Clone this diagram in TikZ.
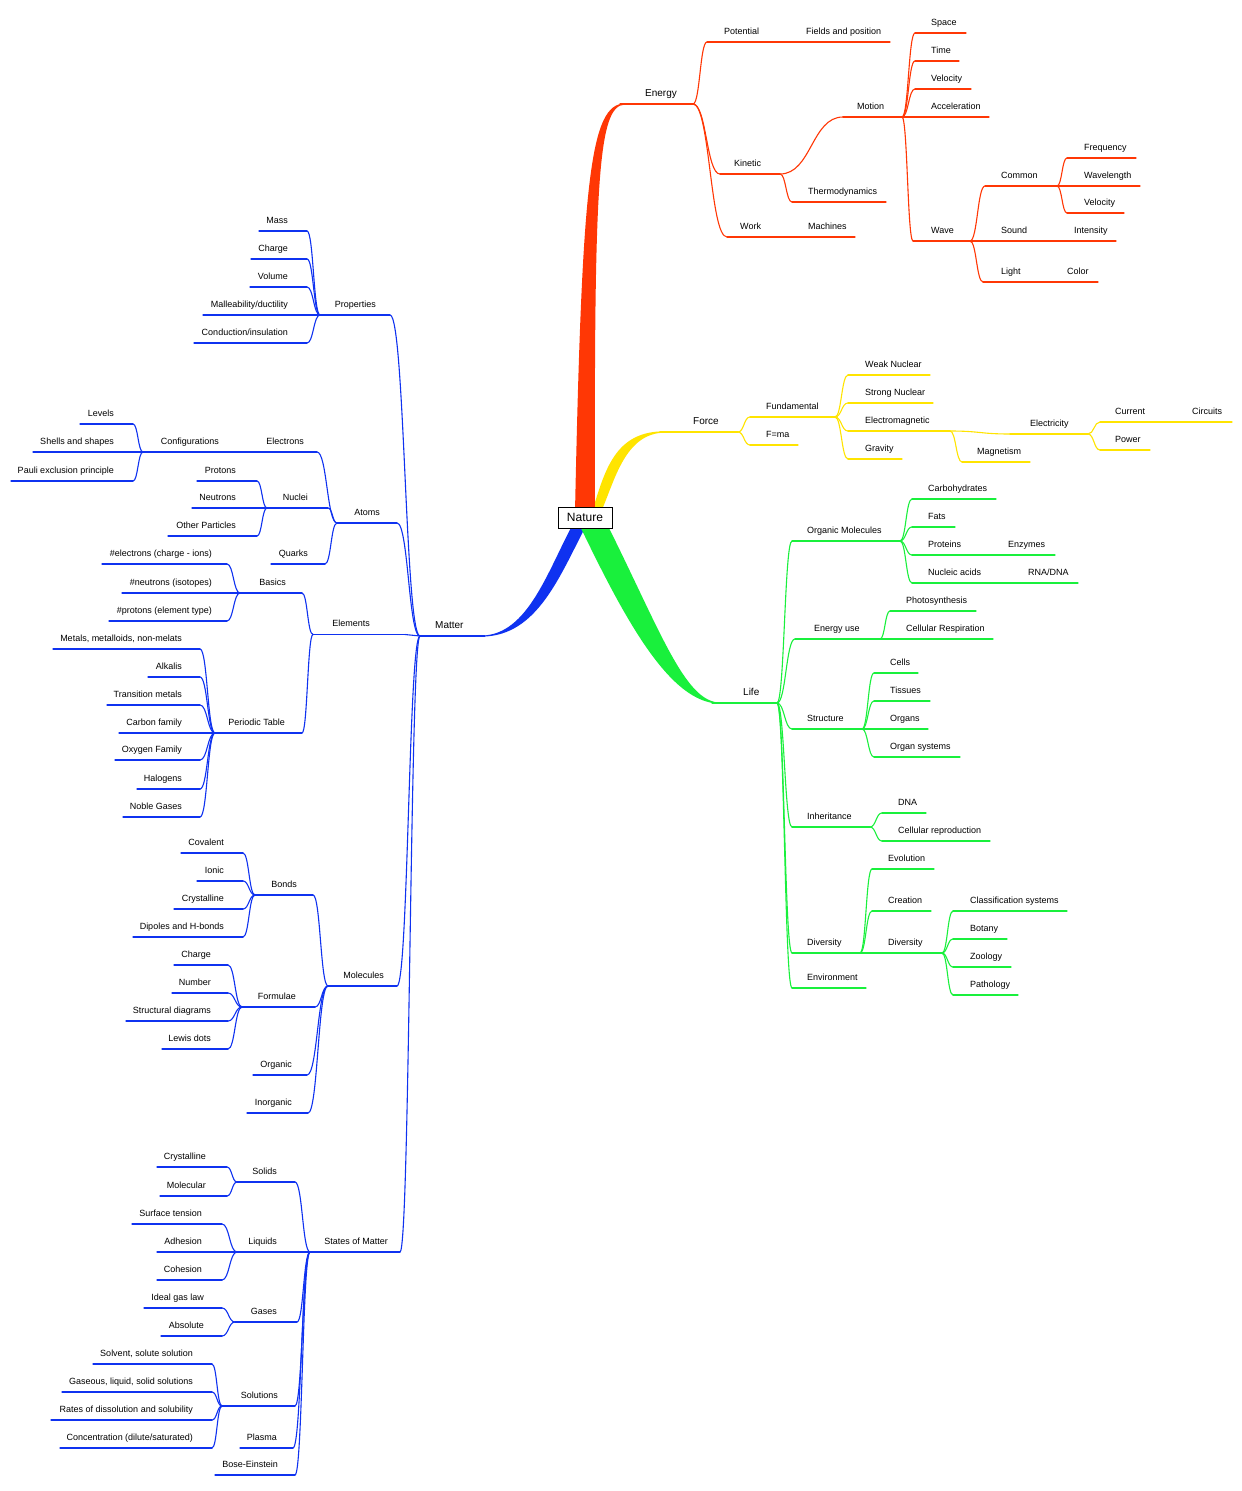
\documentclass[tikz,border=0pt]{standalone}
\usepackage{fontspec}
\setmainfont{Liberation Sans}
\usetikzlibrary{calc}
\definecolor{cred}{RGB}{255,55,5}
\definecolor{cyel}{RGB}{255,228,0}
\definecolor{cgrn}{RGB}{25,240,60}
\definecolor{cblu}{RGB}{15,50,240}
\tikzset{
 lbl/.style={inner sep=0pt, text=black, font=\fontsize{9}{10}\selectfont},
 big/.style={font=\fontsize{10}{12}\selectfont},
 ul/.style={line width=1.1pt, line cap=round},
 cn/.style={line width=1.1pt, line cap=round},
}
\newcommand\mn[8][]{%
 \coordinate (#2-s) at (#3,#5);
 \coordinate (#2-e) at (#4,#5);
 \node[lbl,anchor=#6,#1] (#2) at (#7,#5-8) {#8};
 \draw[ul] (#2-s) -- (#2-e);}
\newcommand\cR[2]{\draw[cn] let \p1=(#1-e),\p2=(#2-s) in (#1-e) .. controls ({(\x1+\x2)/2},\y1) and ({(\x1+\x2)/2},\y2) .. (#2-s);}
\newcommand\cL[2]{\draw[cn] let \p1=(#1-s),\p2=(#2-e) in (#1-s) .. controls ({(\x1+\x2)/2},\y1) and ({(\x1+\x2)/2},\y2) .. (#2-e);}
\newcommand\kR[2]{\foreach \kk in {#2}{\cR{#1}{\kk}}}
\newcommand\kL[2]{\foreach \kk in {#2}{\cL{#1}{\kk}}}
\begin{document}
\begin{tikzpicture}[x=1pt,y=-1pt]
\useasboundingbox (0,0) rectangle (1242,1491);
\fill[white] (0,0) rectangle (1242,1491);
% trunks
\fill[cyel] (592,512) .. controls (605,470) and (615,431) .. (665,431.3) -- (665,432.6) .. controls (625,433) and (615,480) .. (601,512) -- cycle;
\fill[cred] (575,512) .. controls (582,180) and (590,103.5) .. (625,103.5) -- (625,104.6) .. controls (598,105) and (594,180) .. (595,512) -- cycle;
\fill[cblu] (574,522) .. controls (548,570) and (528,634.8) .. (482,635.5) -- (482,636.6) .. controls (538,636) and (560,575) .. (588,522) -- cycle;
\fill[cgrn] (606,522) .. controls (660,630) and (685,702.5) .. (720,702.5) -- (720,703.6) .. controls (670,703.5) and (625,620) .. (578,522) -- cycle;
\node[draw=black, line width=1pt, fill=white, minimum width=54, minimum height=21, inner sep=0pt, font=\fontsize{12}{14}\selectfont] (nature) at (585,517.5) {Nature};

% ===== Energy (red)
\begin{scope}[color=cred]
\mn[big]{energy}{620}{693}{104}{base west}{645}{Energy}
\mn{potential}{707}{790}{42}{base west}{724}{Potential}
\mn{fields}{790}{890}{42}{base west}{806}{Fields and position}
\mn{kinetic}{720}{780}{174}{base west}{734}{Kinetic}
\mn{motion}{843}{902}{117}{base west}{857}{Motion}
\mn{space}{915}{966}{33}{base west}{931}{Space}
\mn{timex}{915}{959}{61}{base west}{931}{Time}
\mn{velA}{915}{971}{89}{base west}{931}{Velocity}
\mn{accel}{915}{989}{117}{base west}{931}{Acceleration}
\mn{wave}{913}{970}{241}{base west}{931}{Wave}
\mn{common}{985}{1057}{186}{base west}{1001}{Common}
\mn{freq}{1067}{1136}{158}{base west}{1084}{Frequency}
\mn{wavelen}{1067}{1140}{186}{base west}{1084}{Wavelength}
\mn{velB}{1067}{1124}{213}{base west}{1084}{Velocity}
\mn{sound}{985}{1060}{241}{base west}{1001}{Sound}
\mn{intensity}{1060}{1116}{241}{base west}{1074}{Intensity}
\mn{light}{983}{1055}{282}{base west}{1001}{Light}
\mn{colour}{1055}{1098}{282}{base west}{1067}{Color}
\mn{thermo}{792}{886}{202}{base west}{808}{Thermodynamics}
\mn{work}{727}{790}{237}{base west}{740}{Work}
\mn{machines}{790}{855}{237}{base west}{808}{Machines}
\kR{energy}{potential,kinetic,work}
\cR{potential}{fields}
\kR{kinetic}{motion,thermo}
\kR{motion}{space,timex,velA,accel,wave}
\kR{wave}{common,sound,light}
\kR{common}{freq,wavelen,velB}
\cR{sound}{intensity}
\cR{light}{colour}
\cR{work}{machines}
\end{scope}

% ===== Force (yellow)
\begin{scope}[color=cyel]
\mn[big]{force}{660}{738}{432}{base west}{693}{Force}
\mn{fundamental}{750}{835}{417}{base west}{766}{Fundamental}
\mn{fma}{750}{798}{445}{base west}{766}{F=ma}
\mn{weak}{848}{930}{375}{base west}{865}{Weak Nuclear}
\mn{strong}{848}{933}{403}{base west}{865}{Strong Nuclear}
\mn{electromag}{848}{950}{431}{base west}{865}{Electromagnetic}
\mn{gravity}{848}{902}{459}{base west}{865}{Gravity}
\mn{electricity}{1010}{1088}{434}{base west}{1030}{Electricity}
\mn{magnetism}{962}{1030}{462}{base west}{977}{Magnetism}
\mn{current}{1100}{1170}{422}{base west}{1115}{Current}
\mn{circuits}{1170}{1232}{422}{base west}{1192}{Circuits}
\mn{power}{1100}{1150}{450}{base west}{1115}{Power}
\kR{force}{fundamental,fma}
\kR{fundamental}{weak,strong,electromag,gravity}
\kR{electromag}{electricity,magnetism}
\kR{electricity}{current,power}
\cR{current}{circuits}
\end{scope}

% ===== Life (green)
\begin{scope}[color=cgrn]
\mn[big]{life}{712}{777}{703}{base west}{743}{Life}
\mn{orgmol}{792}{900}{541}{base west}{807}{Organic Molecules}
\mn{carbo}{912}{996}{499}{base west}{928}{Carbohydrates}
\mn{fats}{912}{955}{527}{base west}{928}{Fats}
\mn{proteins}{912}{990}{555}{base west}{928}{Proteins}
\mn{enzymes}{990}{1055}{555}{base west}{1008}{Enzymes}
\mn{nucleic}{912}{1010}{583}{base west}{928}{Nucleic acids}
\mn{rnadna}{1010}{1078}{583}{base west}{1028}{RNA/DNA}
\mn{energyuse}{795}{880}{639}{base west}{814}{Energy use}
\mn{photo}{890}{976}{611}{base west}{906}{Photosynthesis}
\mn{cellresp}{890}{993}{639}{base west}{906}{Cellular Respiration}
\mn{structure}{792}{862}{729}{base west}{807}{Structure}
\mn{cells}{874}{918}{673}{base west}{890}{Cells}
\mn{tissues}{874}{930}{701}{base west}{890}{Tissues}
\mn{organs}{874}{928}{729}{base west}{890}{Organs}
\mn{organsys}{874}{960}{757}{base west}{890}{Organ systems}
\mn{inheritance}{792}{870}{827}{base west}{807}{Inheritance}
\mn{dna}{882}{926}{813}{base west}{898}{DNA}
\mn{cellrep}{882}{990}{841}{base west}{898}{Cellular reproduction}
\mn{diversity}{792}{860}{953}{base west}{807}{Diversity}
\mn{evolution}{872}{934}{869}{base west}{888}{Evolution}
\mn{creation}{872}{931}{911}{base west}{888}{Creation}
\mn{diversityB}{872}{942}{953}{base west}{888}{Diversity}
\mn{classif}{953}{1067}{911}{base west}{970}{Classification systems}
\mn{botany}{953}{1007}{939}{base west}{970}{Botany}
\mn{zoology}{953}{1011}{967}{base west}{970}{Zoology}
\mn{pathology}{953}{1018}{995}{base west}{970}{Pathology}
\mn{environment}{792}{866}{988}{base west}{807}{Environment}
\kR{life}{orgmol,energyuse,structure,inheritance,diversity,environment}
\kR{orgmol}{carbo,fats,proteins,nucleic}
\cR{proteins}{enzymes}
\cR{nucleic}{rnadna}
\kR{energyuse}{photo,cellresp}
\kR{structure}{cells,tissues,organs,organsys}
\kR{inheritance}{dna,cellrep}
\kR{diversity}{evolution,creation,diversityB}
\kR{diversityB}{classif,botany,zoology,pathology}
\end{scope}

% ===== Matter (blue)
\begin{scope}[color=cblu]
\mn[big]{matter}{420}{485}{636}{base west}{435}{Matter}
\mn{properties}{320}{390}{315}{base east}{376}{Properties}
\mn{mass}{259}{307}{231}{base east}{288}{Mass}
\mn{chargeA}{251}{307}{259}{base east}{288}{Charge}
\mn{volume}{250}{307}{287}{base east}{288}{Volume}
\mn{malle}{203}{320}{315}{base east}{288}{Malleability/ductility}
\mn{conduction}{194}{307}{343}{base east}{288}{Conduction/insulation}
\mn{atoms}{337}{397}{523}{base east}{380}{Atoms}
\mn{electrons}{250}{317}{452}{base east}{304}{Electrons}
\mn{config}{143}{250}{452}{base east}{219}{Configurations}
\mn{levels}{80}{133}{424}{base east}{114}{Levels}
\mn{shells}{33}{143}{452}{base east}{114}{Shells and shapes}
\mn{pauli}{11}{133}{481}{base east}{114}{Pauli exclusion principle}
\mn{nuclei}{267}{328}{508}{base east}{308}{Nuclei}
\mn{protons}{197}{257}{481}{base east}{236}{Protons}
\mn{neutrons}{192}{267}{508}{base east}{236}{Neutrons}
\mn{otherp}{168}{257}{536}{base east}{236}{Other Particles}
\mn{quarks}{271}{325}{564}{base east}{308}{Quarks}
\mn{elements}{313}{405}{634.5}{base east}{370}{Elements}
\mn{basics}{240}{302}{593}{base east}{286}{Basics}
\mn{nelec}{102}{227}{564}{base east}{212}{\#electrons (charge - ions)}
\mn{nneut}{122}{240}{593}{base east}{212}{\#neutrons (isotopes)}
\mn{nprot}{109}{227}{621}{base east}{212}{\#protons (element type)}
\mn{periodic}{215}{302}{733}{base east}{285}{Periodic Table}
\mn{metals}{53}{200}{649}{base east}{182}{Metals, metalloids, non-melats}
\mn{alkalis}{148}{200}{677}{base east}{182}{Alkalis}
\mn{transition}{107}{200}{705}{base east}{182}{Transition metals}
\mn{carbon}{119}{215}{733}{base east}{182}{Carbon family}
\mn{oxygen}{115}{200}{760}{base east}{182}{Oxygen Family}
\mn{halogens}{137}{200}{789}{base east}{182}{Halogens}
\mn{noble}{123}{200}{817}{base east}{182}{Noble Gases}
\mn{molecules}{328}{397}{986}{base east}{384}{Molecules}
\mn{bonds}{255}{313}{895}{base east}{297}{Bonds}
\mn{covalent}{181}{243}{853}{base east}{224}{Covalent}
\mn{ionic}{197}{243}{881}{base east}{224}{Ionic}
\mn{crystA}{174}{243}{909}{base east}{224}{Crystalline}
\mn{dipoles}{133}{243}{937}{base east}{224}{Dipoles and H-bonds}
\mn{formulae}{242}{315}{1007}{base east}{296}{Formulae}
\mn{chargeB}{174}{228}{965}{base east}{211}{Charge}
\mn{number}{172}{228}{993}{base east}{211}{Number}
\mn{structural}{126}{228}{1021}{base east}{211}{Structural diagrams}
\mn{lewis}{162}{228}{1049}{base east}{211}{Lewis dots}
\mn{organic}{253}{307}{1075}{base east}{292}{Organic}
\mn{inorganic}{247}{308}{1113}{base east}{292}{Inorganic}
\mn{states}{310}{400}{1252}{base east}{388}{States of Matter}
\mn{solids}{237}{295}{1182}{base east}{277}{Solids}
\mn{crystB}{157}{227}{1167}{base east}{206}{Crystalline}
\mn{molecular}{160}{227}{1196}{base east}{206}{Molecular}
\mn{liquids}{237}{310}{1252}{base east}{277}{Liquids}
\mn{surface}{132}{222}{1224}{base east}{202}{Surface tension}
\mn{adhesion}{157}{237}{1252}{base east}{202}{Adhesion}
\mn{cohesion}{157}{222}{1280}{base east}{202}{Cohesion}
\mn{gases}{235}{297}{1322}{base east}{277}{Gases}
\mn{idealgas}{144}{222}{1308}{base east}{204}{Ideal gas law}
\mn{absolute}{161}{222}{1336}{base east}{204}{Absolute}
\mn{solutions}{222}{295}{1406}{base east}{278}{Solutions}
\mn{solvent}{93}{212}{1364}{base east}{193}{Solvent, solute solution}
\mn{gaseous}{62}{212}{1392}{base east}{193}{Gaseous, liquid, solid solutions}
\mn{rates}{51}{212}{1420}{base east}{193}{Rates of dissolution and solubility}
\mn{concentration}{60}{212}{1448}{base east}{193}{Concentration (dilute/saturated)}
\mn{plasma}{240}{293}{1448}{base east}{277}{Plasma}
\mn{bose}{215}{295}{1475}{base east}{278}{Bose-Einstein}
\kL{matter}{properties,atoms,elements,molecules,states}
\kL{properties}{mass,chargeA,volume,malle,conduction}
\kL{atoms}{electrons,nuclei,quarks}
\cL{electrons}{config}
\kL{config}{levels,shells,pauli}
\kL{nuclei}{protons,neutrons,otherp}
\kL{elements}{basics,periodic}
\kL{basics}{nelec,nneut,nprot}
\kL{periodic}{metals,alkalis,transition,carbon,oxygen,halogens,noble}
\kL{molecules}{bonds,formulae,organic,inorganic}
\kL{bonds}{covalent,ionic,crystA,dipoles}
\kL{formulae}{chargeB,number,structural,lewis}
\kL{states}{solids,liquids,gases,solutions,plasma,bose}
\kL{solids}{crystB,molecular}
\kL{liquids}{surface,adhesion,cohesion}
\kL{gases}{idealgas,absolute}
\kL{solutions}{solvent,gaseous,rates,concentration}
\end{scope}
\end{tikzpicture}
\end{document}
